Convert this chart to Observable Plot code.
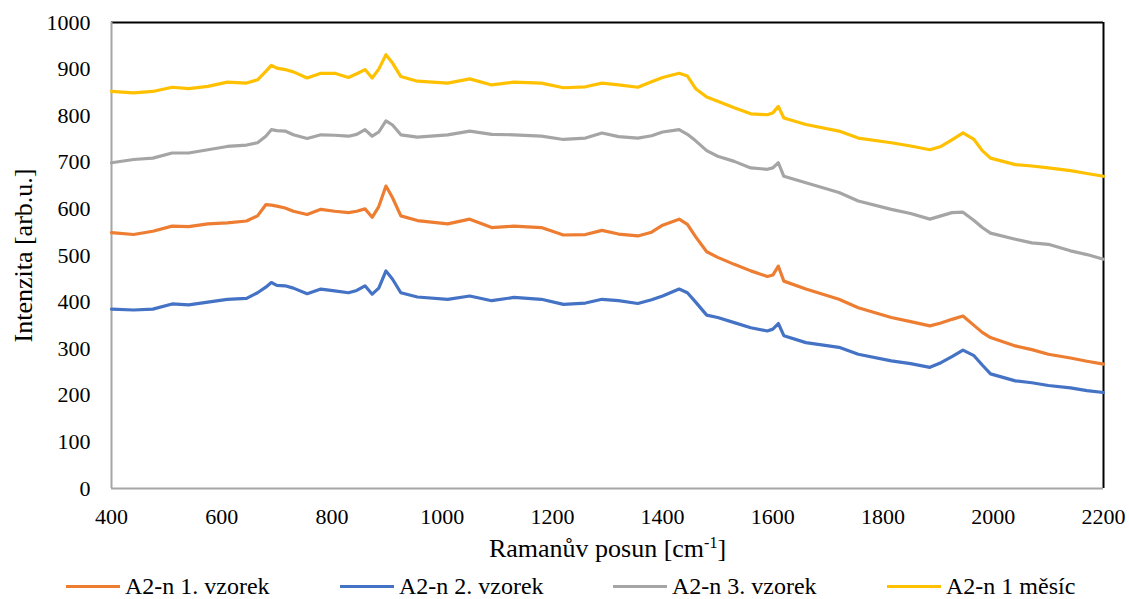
<!DOCTYPE html>
<html>
<head>
<meta charset="utf-8">
<script src="https://cdn.jsdelivr.net/npm/d3@7"></script>
<script src="https://cdn.jsdelivr.net/npm/@observablehq/plot@0.6"></script>
<style>
  body { margin: 0; background: #fff; font-family: "Liberation Serif", "Times New Roman", serif; }
  #wrap { position: relative; width: 1129px; height: 599px; overflow: hidden; }
  #legend { position: absolute; left: 0; top: 574px; width: 1129px; height: 25px; }
  .item { position: absolute; top: 0; display: flex; align-items: center; height: 25px; font-size: 24px; line-height: 25px; color: #000; white-space: nowrap; }
  .swatch { display: inline-block; width: 54px; height: 3.5px; margin-right: 5px; }
</style>
</head>
<body>
<div id="wrap"><div id="chart"></div><div id="legend"></div></div>
<script>
const wavenumbers = [400,440,475,510,540,575,610,645,665,680,690,700,715,730,755,780,805,830,845,860,873,885,898,910,925,955,1010,1050,1090,1130,1180,1220,1260,1290,1320,1355,1380,1400,1430,1445,1460,1480,1500,1530,1560,1590,1600,1610,1620,1660,1720,1755,1815,1850,1885,1905,1925,1945,1965,1980,1995,2040,2070,2100,2140,2170,2200];

const vzorek1 = [549,545,552,563,562,568,570,574,585,609,608,606,602,595,588,599,595,592,595,600,582,605,649,624,585,575,568,578,560,563,560,544,545,554,546,542,550,565,578,567,540,508,496,481,467,455,458,477,445,428,406,388,367,358,349,355,363,370,350,335,324,306,298,288,280,273,267];

const vzorek2 = [385,383,385,396,394,400,406,408,420,432,442,436,435,430,418,428,424,420,425,435,417,430,467,449,420,411,406,413,403,410,406,395,398,406,403,397,405,413,428,420,400,372,367,356,345,338,342,354,328,313,303,288,274,268,260,270,283,297,285,265,246,231,227,221,216,210,206];

const vzorek3 = [699,706,709,720,720,727,734,737,742,756,770,768,767,759,751,759,758,756,760,770,756,765,789,780,759,754,759,767,760,759,756,749,752,763,755,752,757,765,770,760,746,725,713,702,688,685,688,699,670,656,635,617,599,590,578,585,592,593,575,560,548,535,527,524,510,502,492];

const mesic1 = [852,849,852,861,858,863,872,870,877,895,908,902,899,894,881,891,891,882,890,899,881,900,931,913,884,874,870,879,866,872,870,860,862,870,866,861,873,882,891,885,858,840,831,817,804,802,806,820,795,781,767,752,742,735,727,734,748,763,749,725,709,695,692,688,682,676,670];

const seriesNames = ["A2-n 1. vzorek", "A2-n 2. vzorek", "A2-n 3. vzorek", "A2-n 1 měsíc"];
const seriesColors = ["#ED7D31", "#4472C4", "#A5A5A5", "#FFC000"];
const xTicks = [400,600,800,1000,1200,1400,1600,1800,2000,2200];
const yTicks = [0,100,200,300,400,500,600,700,800,900,1000];
const xTitle = "Ramanův posun [cm-1]";
const yTitle = "Intenzita [arb.u.]";

const allSeries = [vzorek1, vzorek2, vzorek3, mesic1];
const rows = [];
allSeries.forEach((vals, si) => {
  vals.forEach((v, i) => rows.push({series: seriesNames[si], x: wavenumbers[i], y: v}));
});

const plot = Plot.plot({
  width: 1129,
  height: 599,
  marginLeft: 111,
  marginRight: 26,
  marginTop: 22,
  marginBottom: 111,
  style: {fontFamily: "'Liberation Serif', 'Times New Roman', serif", fontSize: "22px", color: "#000", background: "#fff"},
  x: {domain: [400, 2200], ticks: xTicks, tickSize: 0, tickPadding: 20, label: null, tickFormat: d => String(d)},
  y: {domain: [0, 1000], ticks: yTicks, tickSize: 0, tickPadding: 21, label: null, tickFormat: d => String(d)},
  color: {domain: seriesNames, range: seriesColors},
  marks: [
    Plot.ruleY([1000], {stroke: "#000", strokeWidth: 2}),
    Plot.ruleX([2200], {stroke: "#000", strokeWidth: 2}),
    Plot.ruleX([400], {stroke: "#A6A6A6", strokeWidth: 2}),
    Plot.ruleY([0], {stroke: "#A6A6A6", strokeWidth: 2}),
    Plot.line(rows, {x: "x", y: "y", z: "series", stroke: "series", strokeWidth: 3.2, strokeLinejoin: "round", strokeLinecap: "round"}),
    Plot.text([xTitle], {frameAnchor: "bottom", textAnchor: "middle", lineAnchor: "middle", dy: 60, fontSize: 26, text: d => d}),
    Plot.text([yTitle], {frameAnchor: "left", textAnchor: "middle", lineAnchor: "middle", rotate: -90, dx: -88, fontSize: 26, text: d => d})
  ]
});
document.getElementById("chart").appendChild(plot);

// superscript in x title
d3.select(plot).selectAll("text").each(function() {
  const t = d3.select(this);
  if (t.text() === xTitle) {
    t.text(null);
    const base = xTitle.replace("-1]", "");
    t.append("tspan").text(base);
    t.append("tspan").attr("dy", -9).attr("font-size", "16px").text("-1");
    t.append("tspan").attr("dy", 9).text("]");
  }
});

const legendLefts = [66, 340, 613, 887];
const legend = document.getElementById("legend");
seriesNames.forEach((name, i) => {
  const it = document.createElement("div");
  it.className = "item";
  it.style.left = legendLefts[i] + "px";
  const sw = document.createElement("span");
  sw.className = "swatch";
  sw.style.background = seriesColors[i];
  it.appendChild(sw);
  const tx = document.createElement("span");
  tx.textContent = name;
  it.appendChild(tx);
  legend.appendChild(it);
});
</script>
</body>
</html>
